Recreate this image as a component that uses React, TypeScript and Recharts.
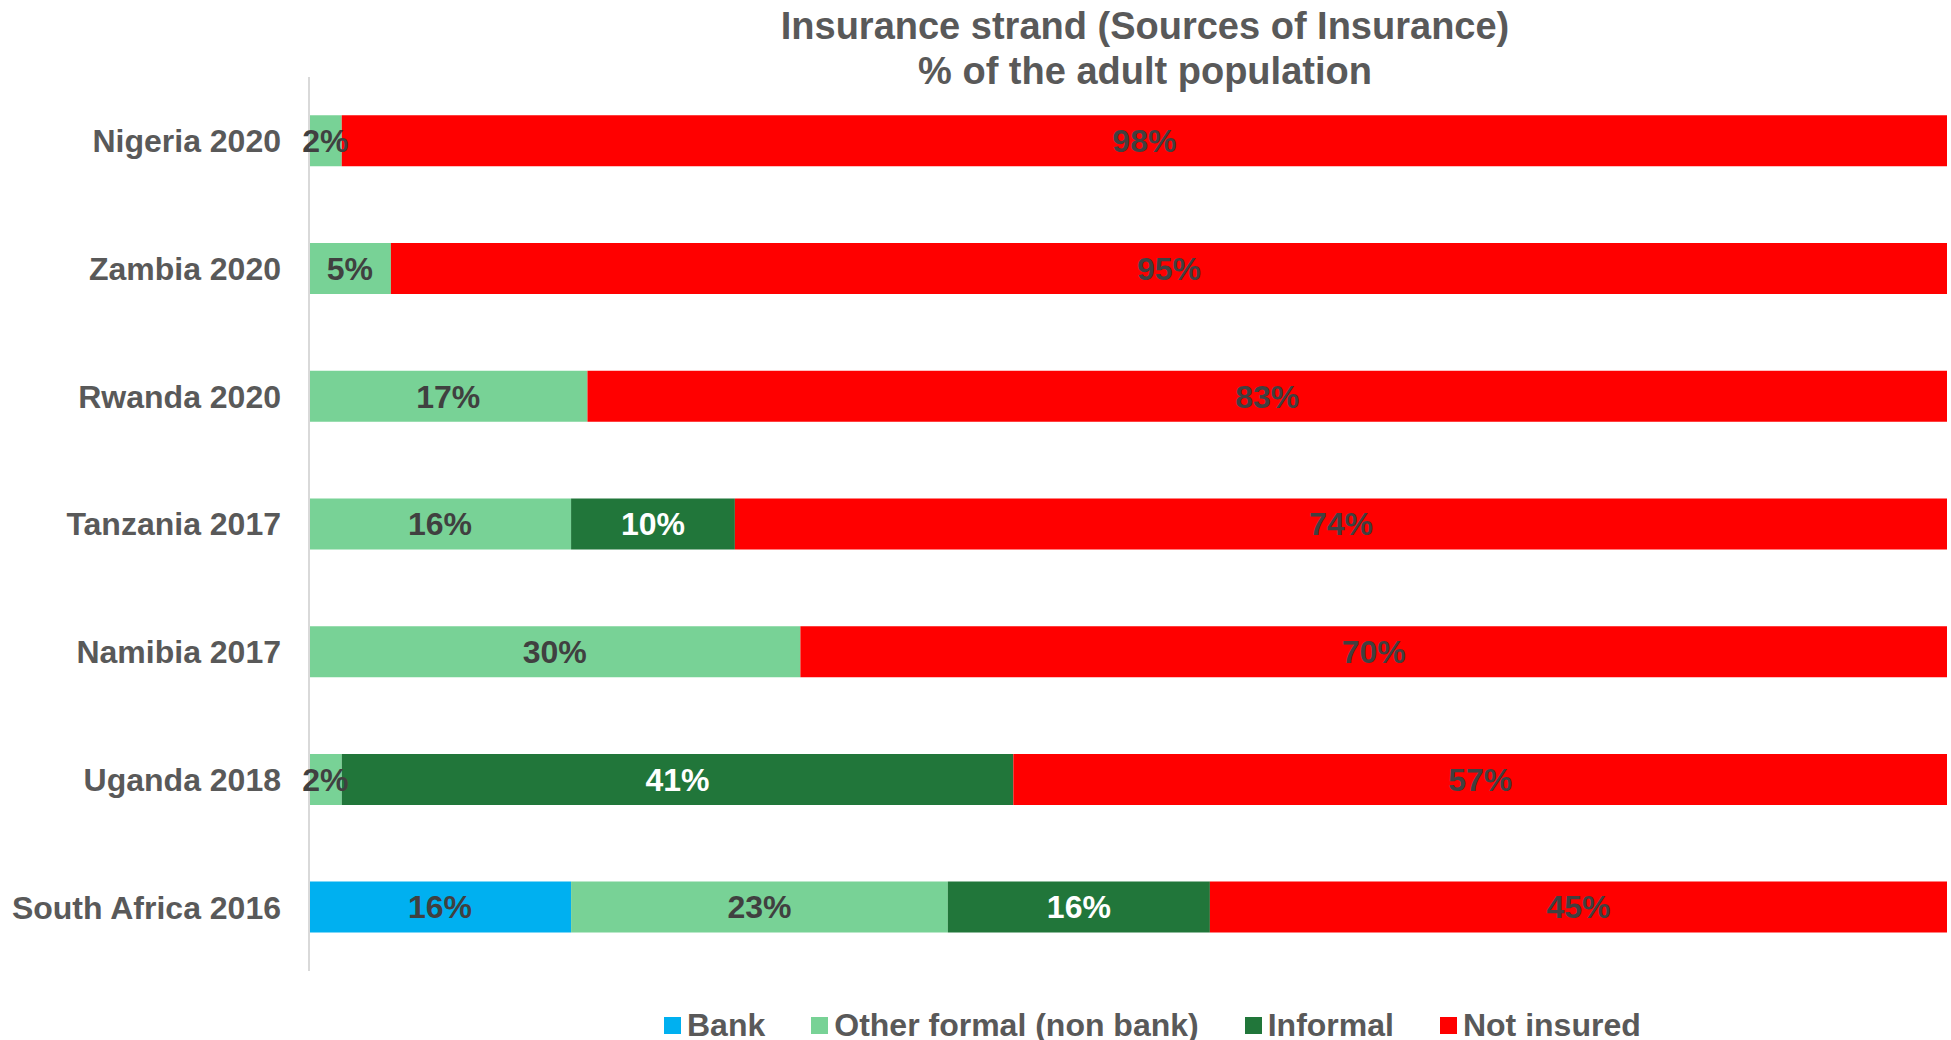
import React from "react"
import { Bar, BarChart, LabelList, Legend, XAxis, YAxis } from "recharts"

const countries = [
  "Nigeria 2020",
  "Zambia 2020",
  "Rwanda 2020",
  "Tanzania 2017",
  "Namibia 2017",
  "Uganda 2018",
  "South Africa 2016",
]
const seriesNames = ["Bank", "Other formal (non bank)", "Informal", "Not insured"]
const bank = [0, 0, 0, 0, 0, 0, 16]
const otherFormal = [2, 5, 17, 16, 30, 2, 23]
const informal = [0, 0, 0, 10, 0, 41, 16]
const notInsured = [98, 95, 83, 74, 70, 57, 45]

const data = countries.map((name, i) => ({
  name,
  bank: bank[i],
  otherFormal: otherFormal[i],
  informal: informal[i],
  notInsured: notInsured[i],
}))

const FONT = '"Liberation Sans", Arial, sans-serif'
const pct = (v: any) => (v ? `${v}%` : "")

const CustomLegend = ({ payload }: any) => {
  const items = [...(payload || [])].sort(
    (a: any, b: any) => seriesNames.indexOf(a.value) - seriesNames.indexOf(b.value)
  )
  return (
    <div style={{ display: "flex", alignItems: "center", height: 30, fontFamily: FONT, fontWeight: 700, fontSize: 32, color: "#595959" }}>
      {items.map((entry: any, index: number) => (
        <div key={index} style={{ display: "flex", alignItems: "center", marginRight: 46 }}>
          <span style={{ width: 17, height: 17, background: entry.color, marginRight: 6, display: "inline-block" }} />
          <span style={{ lineHeight: "30px" }}>{entry.value}</span>
        </div>
      ))}
    </div>
  )
}

export default function App() {
  return (
    <div style={{ position: "absolute", left: 0, top: 0, width: 1951, height: 1040, background: "#fff" }}>
      <div
        style={{
          position: "absolute",
          top: 4,
          left: 1145 - 600,
          width: 1200,
          textAlign: "center",
          fontFamily: FONT,
          fontWeight: 700,
          fontSize: 38,
          lineHeight: "45px",
          color: "#595959",
        }}
      >
        Insurance strand (Sources of Insurance)
        <br />% of the adult population
      </div>
      <BarChart
        width={1951}
        height={1040}
        data={data}
        layout="vertical"
        margin={{ top: 77, right: 4, left: 0, bottom: 39 }}
        barCategoryGap="30%"
      >
        <XAxis type="number" domain={[0, 100]} hide />
        <YAxis
          type="category"
          dataKey="name"
          width={309}
          axisLine={{ stroke: "#d9d9d9", strokeWidth: 2 }}
          tickLine={false}
          tickSize={0}
          tickMargin={28}
          tick={{ fill: "#595959", fontSize: 32, fontWeight: 700, fontFamily: FONT }}
        />
        <Legend
          verticalAlign="bottom"
          content={<CustomLegend />}
          wrapperStyle={{ left: 664, bottom: 0, width: "auto" }}
        />
        <Bar dataKey="bank" name={seriesNames[0]} stackId="a" fill="#00b0f0" isAnimationActive={false}>
          <LabelList dataKey="bank" position="center" formatter={pct} fill="#404040" fontSize={32} fontWeight={700} fontFamily={FONT} />
        </Bar>
        <Bar dataKey="otherFormal" name={seriesNames[1]} stackId="a" fill="#78d296" isAnimationActive={false}>
          <LabelList dataKey="otherFormal" position="center" formatter={pct} fill="#404040" fontSize={32} fontWeight={700} fontFamily={FONT} />
        </Bar>
        <Bar dataKey="informal" name={seriesNames[2]} stackId="a" fill="#21763a" isAnimationActive={false}>
          <LabelList dataKey="informal" position="center" formatter={pct} fill="#ffffff" fontSize={32} fontWeight={700} fontFamily={FONT} />
        </Bar>
        <Bar dataKey="notInsured" name={seriesNames[3]} stackId="a" fill="#ff0000" isAnimationActive={false}>
          <LabelList dataKey="notInsured" position="center" formatter={pct} fill="#404040" fontSize={32} fontWeight={700} fontFamily={FONT} />
        </Bar>
      </BarChart>
    </div>
  )
}
